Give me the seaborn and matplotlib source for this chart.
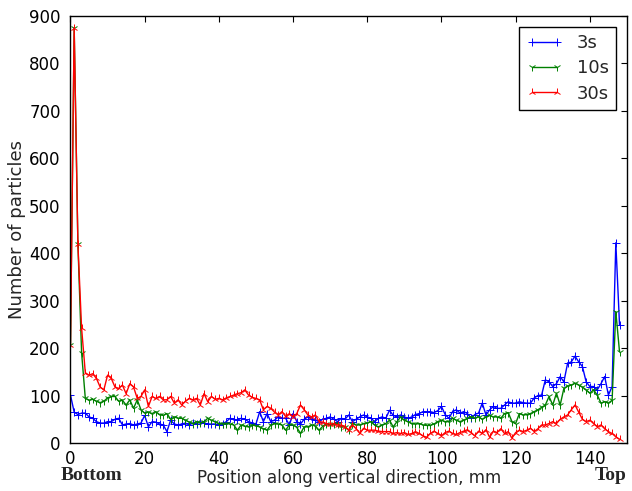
import numpy as np
import pandas as pd
import matplotlib
matplotlib.use("Agg")
import matplotlib.pyplot as plt
import seaborn as sns

# ---- data ----
position_mm = list(range(0, 149))

counts_3s = [
    101, 65, 60, 63, 63, 55, 52, 45, 42, 42, 45, 45, 50, 52, 38, 40, 41, 38, 40, 42,
    58, 34, 45, 44, 40, 38, 24, 48, 40, 38,
    40, 42, 38, 42, 40, 45, 42, 40, 40, 40, 38, 40, 45, 52, 50, 48, 52, 50, 45, 42,
    40, 66, 45, 62, 45, 48, 55, 52, 52, 38,
    62, 45, 40, 50, 55, 50, 48, 45, 50, 52, 55, 50, 45, 52, 50, 59, 45, 50, 55, 59,
    55, 52, 45, 52, 55, 52, 69, 58, 55, 59,
    55, 52, 55, 60, 62, 66, 66, 66, 64, 68, 77, 60, 52, 66, 70, 63, 66, 62, 52, 60,
    63, 84, 59, 70, 77, 73, 73, 80,
    87, 84, 84, 87, 85, 84, 84, 95, 100, 101, 133, 129, 119, 125, 140, 129, 168, 171,
    183, 171, 161, 129, 119, 119, 112, 125, 140, 101, 119, 422, 249,
]

counts_10s = [
    207, 875, 420, 190, 94, 90, 92, 88, 85, 88, 95, 98, 98, 88, 90, 80, 91, 73, 91, 70,
    63, 65, 62, 66, 60, 58, 62, 50, 55, 52,
    52, 48, 44, 41, 45, 42, 45, 52, 48, 45, 41, 40, 41, 40, 38, 27, 38, 35, 34, 38,
    36, 34, 30, 27, 38, 41, 40, 38, 27, 38,
    38, 33, 20, 34, 34, 38, 36, 27, 35, 41, 38, 40, 41, 34, 34, 27, 41, 38, 38, 41,
    42, 45, 38, 34, 38, 41, 48, 34, 45, 55,
    48, 45, 41, 40, 41, 38, 37, 37, 40, 45, 48, 45, 45, 52, 48, 45, 48, 52, 55, 52,
    55, 50, 55, 58, 55, 55, 52, 62,
    64, 45, 41, 62, 59, 60, 62, 66, 70, 75, 80, 98, 80, 105, 80, 115, 120, 122, 126,
    122, 118, 112, 105, 112, 101, 84, 87, 84, 90, 277, 192,
]

counts_30s = [
    207, 875, 420, 242, 148, 143, 146, 136, 118, 112, 143, 136, 118, 115, 122, 104,
    125, 118, 94, 98, 112, 77, 98, 94, 98, 91, 91, 98, 84, 91,
    80, 88, 94, 91, 94, 80, 104, 87, 98, 92, 94, 91, 95, 98, 101, 104, 106, 112, 101,
    96, 94, 91, 70, 77, 73, 65, 59, 66, 56, 62,
    55, 62, 80, 70, 59, 55, 59, 45, 44, 41, 40, 41, 38, 38, 34, 27, 38, 30, 20, 31,
    27, 27, 27, 25, 24, 24, 24, 20, 22, 20,
    22, 18, 20, 24, 20, 15, 12, 20, 25, 20, 15, 22, 25, 20, 18, 22, 25, 28, 22, 15,
    25, 20, 28, 12, 25, 22, 30, 20,
    24, 10, 22, 27, 24, 27, 31, 24, 30, 38, 38, 41, 45, 41, 50, 55, 59, 70, 80, 65,
    50, 45, 48, 41, 34, 38, 30, 24, 20, 13, 8,
]

series_labels = ["3s", "10s", "30s"]
series_colors = ["#0000ff", "#008000", "#ff0000"]
series_markers = ["+", "1", "2"]
x_ticks = [0, 20, 40, 60, 80, 100, 120, 140]
y_ticks = [0, 100, 200, 300, 400, 500, 600, 700, 800, 900]

# ---- figure ----
sns.set_style("white")
plt.rcParams["font.family"] = ["DejaVu Sans"]

fig = plt.figure(figsize=(6.32, 4.91), dpi=100)
ax = fig.add_axes([0.1115, 0.0978, 0.8805, 0.8696])

for vals, lab, col, mk in zip([counts_3s, counts_10s, counts_30s],
                              series_labels, series_colors, series_markers):
    df = pd.DataFrame({"pos": position_mm, "n": vals})
    sns.lineplot(data=df, x="pos", y="n", ax=ax, color=col, marker=mk,
                 markersize=6, markeredgecolor=col, markeredgewidth=0.7,
                 linewidth=1.0, label=lab)

ax.set_xlim(0, 150)
ax.set_ylim(0, 900)
ax.set_xticks(x_ticks)
ax.set_yticks(y_ticks)
ax.tick_params(direction="in", length=4, width=0.8, top=True, right=True,
               labelsize=12, colors="black")
ax.tick_params(axis="y", pad=7)
ax.tick_params(axis="x", pad=5)
for s in ax.spines.values():
    s.set_color("black")
    s.set_linewidth(1.0)

ax.set_xlabel("Position along vertical direction, mm", fontsize=12, labelpad=1)
ax.set_ylabel("Number of particles", fontsize=13, labelpad=2)

handles, labels = ax.get_legend_handles_labels()
leg = ax.legend(handles, labels, loc="upper right", numpoints=2, fontsize=13,
                fancybox=False, frameon=True, handlelength=2.0,
                borderaxespad=0.6, labelspacing=0.4)
leg.get_frame().set_edgecolor("black")
leg.get_frame().set_linewidth(1.0)
leg.get_frame().set_alpha(1.0)

fig.text(91 / 632, 1 - 476 / 491, "Bottom", family="Liberation Serif",
         fontweight="bold", fontsize=14, ha="center", va="center")
fig.text(611 / 632, 1 - 476 / 491, "Top", family="Liberation Serif",
         fontweight="bold", fontsize=14, ha="center", va="center")

fig.savefig("out.png", dpi=100)
